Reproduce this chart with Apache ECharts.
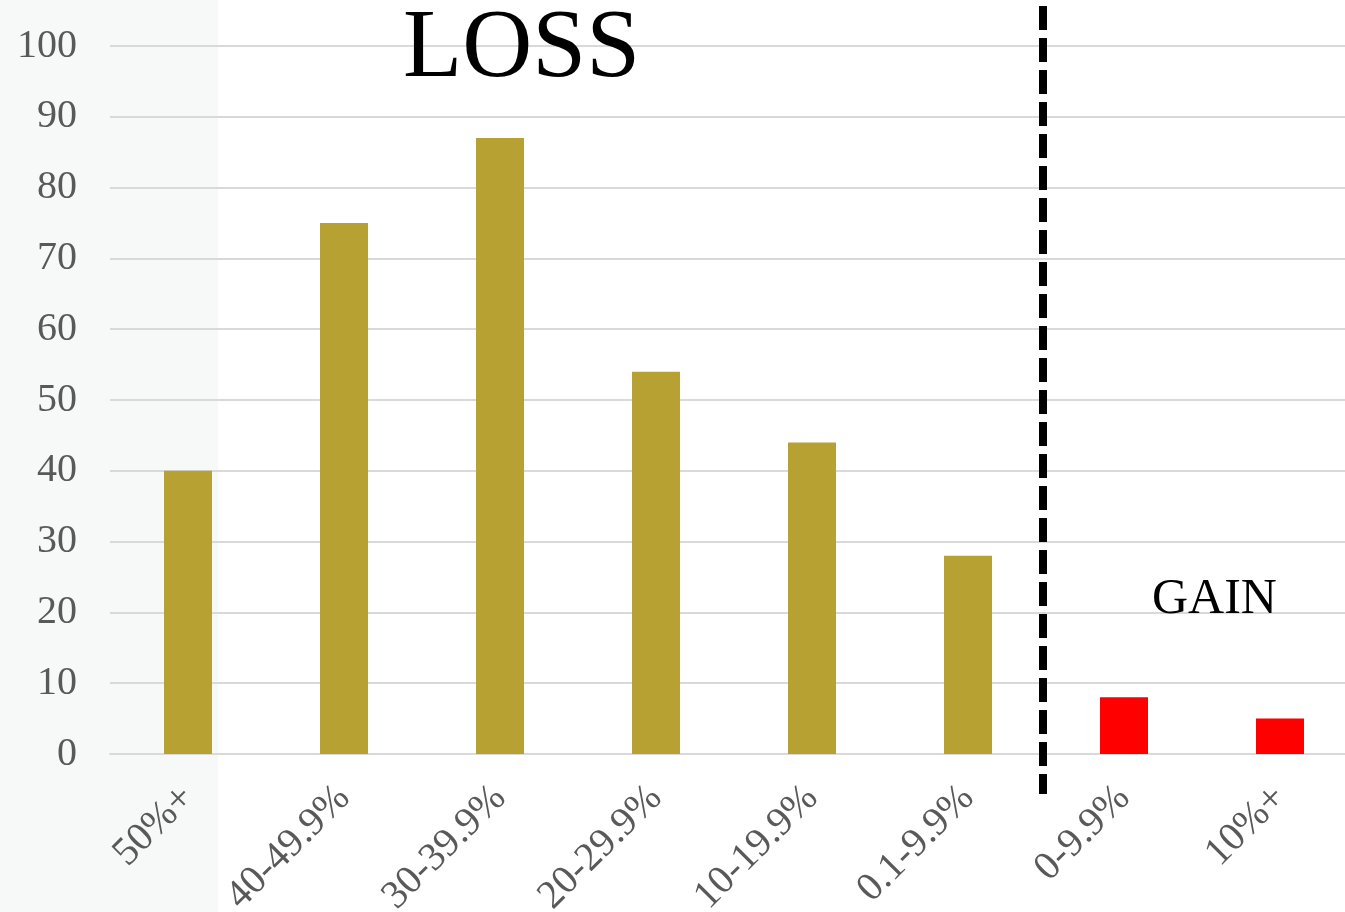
<!DOCTYPE html>
<html>
<head>
<meta charset="utf-8">
<script src="https://cdn.jsdelivr.net/npm/echarts@6/dist/echarts.min.js"></script>
<style>
  html, body { margin:0; padding:0; background:#fff; }
  #main { width:1345px; height:912px; }
</style>
</head>
<body>
<div id="main"></div>
<script>
// categories and counts
var categories = ['50%+', '40-49.9%', '30-39.9%', '20-29.9%', '10-19.9%', '0.1-9.9%', '0-9.9%', '10%+'];
var lossValues = [40, 75, 87, 54, 44, 28, '-', '-'];
var gainValues = ['-', '-', '-', '-', '-', '-', 8, 5];
var yTicks = { min: 0, max: 100, interval: 10 };

var serif = "'Liberation Serif', 'Times New Roman', serif";

var chart = echarts.init(document.getElementById('main'));

var option = {
    animation: false,
    backgroundColor: '#ffffff',
    grid: { left: 110, top: 46, bottom: 158, right: -13, outerBoundsMode: 'none', containLabel: false },
    xAxis: {
        type: 'category',
        data: categories,
        axisLine: { show: true, lineStyle: { color: '#d9d9d9', width: 2 } },
        axisTick: { show: false },
        axisLabel: {
            rotate: 45,
            interval: 0,
            margin: 38,
            color: '#595959',
            fontFamily: serif,
            fontSize: 40
        }
    },
    yAxis: {
        type: 'value',
        min: yTicks.min,
        max: yTicks.max,
        interval: yTicks.interval,
        axisLine: { show: false },
        axisTick: { show: false },
        splitLine: { lineStyle: { color: '#d9d9d9', width: 2 } },
        axisLabel: {
            margin: 33,
            color: '#595959',
            fontFamily: serif,
            fontSize: 40
        }
    },
    series: [
        {
            name: 'loss',
            type: 'bar',
            data: lossValues,
            barWidth: 48,
            barGap: '-100%',
            itemStyle: { color: '#b8a133' }
        },
        {
            name: 'gain',
            type: 'bar',
            data: gainValues,
            barWidth: 48,
            barGap: '-100%',
            itemStyle: { color: '#ff0000' }
        }
    ]
};
chart.setOption(option);

// separator between loss and gain groups, placed from the axis scale
var x5 = chart.convertToPixel({ xAxisIndex: 0 }, categories[5]);
var x6 = chart.convertToPixel({ xAxisIndex: 0 }, categories[6]);
var sepX = Math.round((x5 + x6) / 2) - 3;

chart.setOption({
    graphic: [
        {
            type: 'rect',
            z: -10,
            silent: true,
            shape: { x: 0, y: 0, width: 218, height: 912 },
            style: { fill: '#f7f9f8' }
        },
        {
            type: 'line',
            z: 100,
            shape: { x1: sepX, y1: 6, x2: sepX, y2: 794 },
            style: { stroke: '#000', lineWidth: 8, lineDash: [24, 8] }
        },
        {
            type: 'text',
            z: 100,
            left: 403,
            top: 2,
            style: { text: 'LOSS', font: '97px ' + serif, fill: '#000' }
        },
        {
            type: 'text',
            z: 100,
            left: 1152,
            top: 575,
            style: { text: 'GAIN', font: '50px ' + serif, fill: '#000' }
        }
    ]
});
</script>
</body>
</html>
